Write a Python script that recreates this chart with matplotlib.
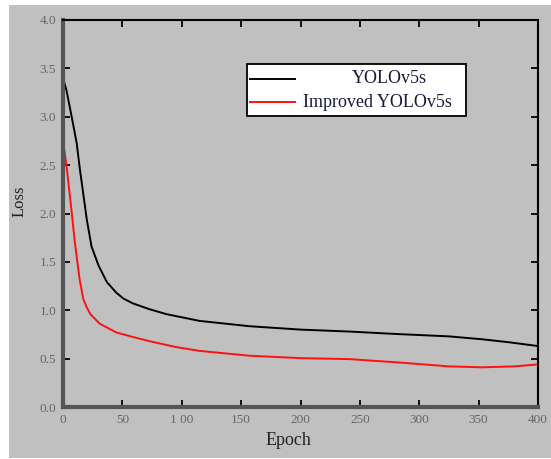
import matplotlib
matplotlib.use('Agg')
import matplotlib.pyplot as plt
from matplotlib.patches import Rectangle

# loss curves
epoch_base = [0, 3, 7.3, 11.5, 14.3, 17, 20, 24, 30, 37, 45, 51, 59, 73, 87, 115, 157, 200, 241, 280, 325, 353, 375, 400]
loss_base = [3.4, 3.27, 3.0, 2.73, 2.45, 2.21, 1.94, 1.66, 1.46, 1.29, 1.18, 1.12, 1.07, 1.01, 0.96, 0.89, 0.835, 0.80, 0.78, 0.755, 0.73, 0.70, 0.67, 0.63]

epoch_imp = [0, 3, 7, 10, 14, 17, 20, 23, 31, 45, 60, 73, 95, 115, 157, 200, 241, 283, 325, 353, 380, 400]
loss_imp = [2.75, 2.49, 2.05, 1.70, 1.32, 1.12, 1.03, 0.96, 0.86, 0.77, 0.72, 0.68, 0.62, 0.58, 0.53, 0.505, 0.495, 0.46, 0.42, 0.41, 0.42, 0.44]

labels = ['YOLOv5s', 'Improved YOLOv5s']
colors = ['black', '#ff1010']

xticks = [0, 50, 100, 150, 200, 250, 300, 350, 400]
xticklabels = ['0', '50', '1 00', '150', '200', '250', '300', '350', '400']
yticks = [0.0, 0.5, 1.0, 1.5, 2.0, 2.5, 3.0, 3.5, 4.0]

plt.rcParams['font.family'] = ['Liberation Serif', 'DejaVu Serif']

bg = '#c0c0c0'
fig = plt.figure(figsize=(5.51, 4.59), dpi=100, facecolor='white')
# grey panel with a thin white margin on the top and left
fig.patches.append(Rectangle((9 / 551, 1 / 459), 1, 453 / 459, transform=fig.transFigure,
                             facecolor=bg, edgecolor='none', zorder=-10))

ax = fig.add_axes([63 / 551, 52 / 459, 475 / 551, 387 / 459])
ax.set_facecolor(bg)

ax.plot(epoch_base, loss_base, color=colors[0], lw=1.4)
ax.plot(epoch_imp, loss_imp, color=colors[1], lw=1.4)

ax.set_xlim(0, 400)
ax.set_ylim(0, 4.0)
ax.set_xticks(xticks)
ax.set_xticklabels(xticklabels)
ax.set_yticks(yticks)
ax.set_yticklabels([f'{v:.1f}' for v in yticks])

ax.tick_params(direction='in', length=5, width=1.3, colors='black', labelcolor='#666666',
               labelsize=9.5, top=True, right=True, pad=5)

for side in ['left', 'bottom']:
    ax.spines[side].set_linewidth(3)
    ax.spines[side].set_color('#555555')
for side in ['top', 'right']:
    ax.spines[side].set_linewidth(1.5)
    ax.spines[side].set_color('black')

ax.set_xlabel('Epoch', fontsize=13, color='#222222')
ax.xaxis.set_label_coords(0.474, -0.065)
ax.set_ylabel('Loss', fontsize=12, color='#222222')
ax.yaxis.set_label_coords(-0.074, 0.532)

# legend box drawn by hand so the first label sits centred like the original
ax.add_patch(Rectangle((0.387, 0.752), 0.461, 0.134, transform=ax.transAxes,
                       facecolor='white', edgecolor='black', lw=1.3, zorder=5))
for i, (lab, col) in enumerate(zip(labels, colors)):
    yy = 0.848 - i * 0.06
    ax.plot([0.394, 0.488], [yy, yy], color=col, lw=1.4, transform=ax.transAxes, zorder=6)
    if i == 0:
        ax.text(0.687, yy, lab, transform=ax.transAxes, fontsize=13, ha='center', va='center',
                color='#1a1a3a', zorder=6)
    else:
        ax.text(0.505, yy, lab, transform=ax.transAxes, fontsize=13, ha='left', va='center',
                color='#1a1a3a', zorder=6)

fig.savefig('out.png', dpi=100, facecolor=fig.get_facecolor())
